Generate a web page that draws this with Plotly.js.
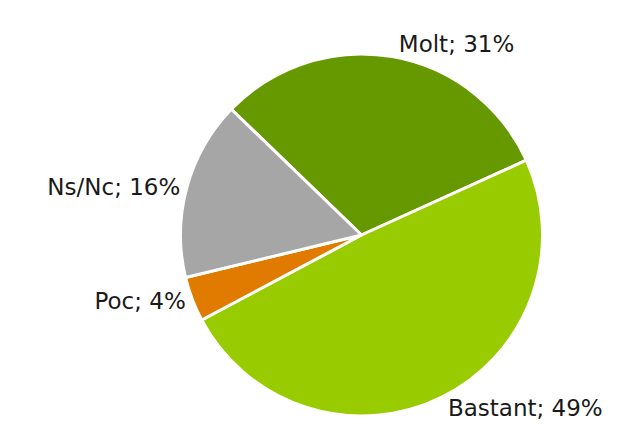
<!DOCTYPE html>
<html>
<head>
<meta charset="utf-8">
<script src="https://cdn.plot.ly/plotly-3.0.1.min.js"></script>
<style>html,body{margin:0;padding:0;background:#fff;}#chart{width:633px;height:444px;}</style>
</head>
<body>
<div id="chart"></div>
<script>
const categories = ["Molt", "Bastant", "Poc", "Ns/Nc"];
const values = [31, 49, 4, 16];
const colors = ["#669900", "#99CC00", "#E07B00", "#A6A6A6"];

Plotly.newPlot("chart", [{
  type: "pie",
  labels: categories,
  values: values,
  sort: false,
  direction: "clockwise",
  rotation: -46,
  marker: {colors: colors, line: {color: "#ffffff", width: 3}},
  textposition: "outside",
  texttemplate: "%{label}; %{percent:.0%}",
  hoverinfo: "label+percent",
  outsidetextfont: {family: "DejaVu Sans", size: 23, color: "#1a1a1a"},
  automargin: false,
  showlegend: false
}], {
  width: 633, height: 444,
  margin: {l: 180, r: 90, t: 54, b: 28},
  paper_bgcolor: "#ffffff",
  showlegend: false
}, {displayModeBar: false, staticPlot: true});
</script>
</body>
</html>
